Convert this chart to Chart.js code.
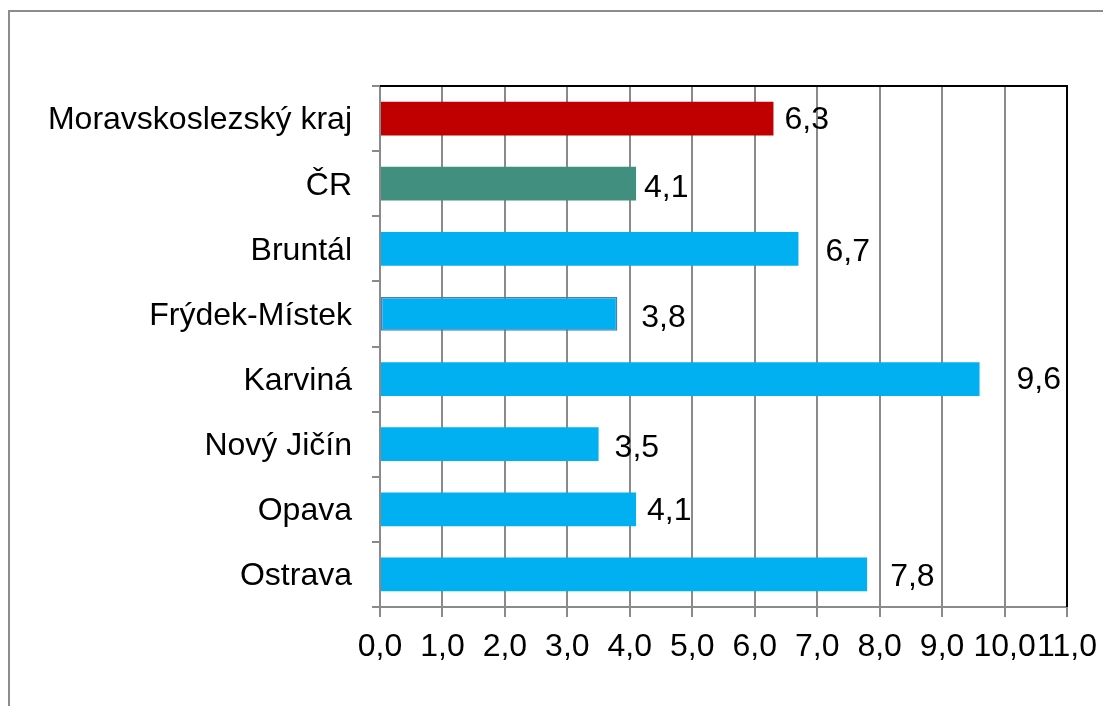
<!DOCTYPE html>
<html>
<head>
<meta charset="utf-8">
<script src="https://cdn.jsdelivr.net/npm/chart.js@4"></script>
<style>
  body { margin: 0; background: #fff; }
  #wrap { width: 1103px; height: 706px; }
</style>
</head>
<body>
<div id="wrap"><canvas id="myChart" width="1103" height="706"></canvas></div>
<script>
// data
const regions = ['Moravskoslezský kraj', 'ČR', 'Bruntál', 'Frýdek-Místek', 'Karviná', 'Nový Jičín', 'Opava', 'Ostrava'];
const values = [6.3, 4.1, 6.7, 3.8, 9.6, 3.5, 4.1, 7.8];
const xTicks = [0, 1, 2, 3, 4, 5, 6, 7, 8, 9, 10, 11];

// styling
const barColors = ['#C00000', '#418F7F', '#00B0F0', '#00B0F0', '#00B0F0', '#00B0F0', '#00B0F0', '#00B0F0'];
const barBorderW = [0, 0, 0, 1.5, 0, 0, 0, 0];
const labelGap = [11, 8, 27, 24, 37, 16, 11, 23];
const labelDrop = [2, 4, 3, 4, 1, 4, 2, 3];
const FONT = '"Liberation Sans", Arial, sans-serif';
const FSIZE = 32;
const gray = '#8A8A8A';

const fmt = v => v.toFixed(1).replace('.', ',');

const valueLabels = {
  id: 'valueLabels',
  afterDatasetsDraw(chart) {
    const ctx = chart.ctx;
    const meta = chart.getDatasetMeta(0);
    ctx.save();
    ctx.font = FSIZE + 'px ' + FONT;
    ctx.fillStyle = '#000';
    ctx.textAlign = 'left';
    ctx.textBaseline = 'middle';
    meta.data.forEach((bar, i) => {
      ctx.fillText(fmt(values[i]), bar.x + labelGap[i], bar.y + labelDrop[i]);
    });
    ctx.restore();
  }
};

// outer frame + black top/right edge of plot area
const frame = {
  id: 'frame',
  beforeDraw(chart) {
    const ctx = chart.ctx;
    ctx.save();
    ctx.strokeStyle = '#8C8C8C';
    ctx.lineWidth = 2;
    ctx.strokeRect(9, 11, 1200, 800);
    ctx.restore();
  },
  afterDraw(chart) {
    const a = chart.chartArea;
    const ctx = chart.ctx;
    ctx.save();
    ctx.strokeStyle = '#000';
    ctx.lineWidth = 2;
    ctx.beginPath();
    ctx.moveTo(a.left, a.top);
    ctx.lineTo(a.right, a.top);
    ctx.lineTo(a.right, a.bottom);
    ctx.stroke();
    ctx.restore();
  }
};

let ctx = document.getElementById('myChart').getContext('2d');

const barChart = new Chart(ctx, {
  type: 'bar',
  data: {
    labels: regions,
    datasets: [{
      data: values,
      backgroundColor: barColors,
      borderColor: '#4A7EBB',
      borderWidth: barBorderW,
      borderSkipped: false,
      barPercentage: 0.52,
      categoryPercentage: 1
    }]
  },
  options: {
    indexAxis: 'y',
    responsive: false,
    animation: false,
    layout: { padding: { top: 86, right: 36, left: 0, bottom: 0 } },
    plugins: {
      legend: { display: false },
      tooltip: { enabled: false }
    },
    scales: {
      x: {
        min: xTicks[0],
        max: xTicks[xTicks.length - 1],
        afterBuildTicks: scale => { scale.ticks = xTicks.map(v => ({ value: v })); },
        afterFit: scale => {
          scale.height = 99;
          scale.paddingLeft = 0;
          scale.paddingRight = 0;
        },
        border: { color: gray, width: 2 },
        grid: {
          color: c => (c.tick && c.tick.value === 11) ? '#000' : gray,
          lineWidth: 2,
          tickLength: 10,
          tickColor: gray
        },
        ticks: {
          autoSkip: false,
          maxRotation: 0,
          padding: 11,
          color: '#000',
          font: { family: FONT, size: FSIZE },
          callback: v => fmt(v)
        }
      },
      y: {
        afterFit: scale => { scale.width = 380; },
        border: { color: gray, width: 2 },
        grid: {
          drawOnChartArea: false,
          offset: true,
          tickLength: 8,
          tickColor: gray,
          lineWidth: 2
        },
        ticks: {
          padding: 20,
          labelOffset: 2,
          color: '#000',
          font: { family: FONT, size: FSIZE }
        }
      }
    }
  },
  plugins: [valueLabels, frame]
});
</script>
</body>
</html>
